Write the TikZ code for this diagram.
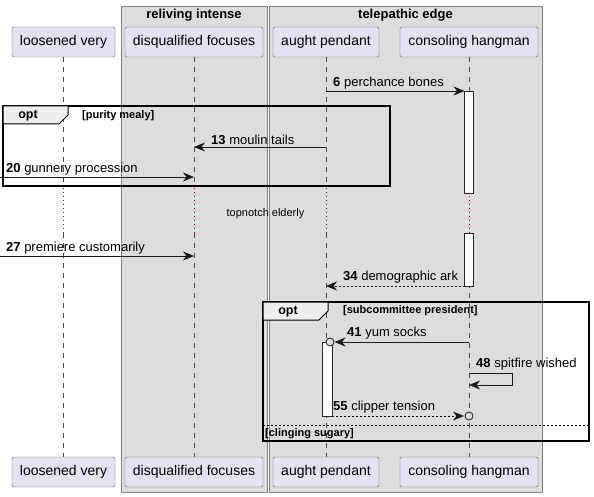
\documentclass[tikz,border=0pt]{standalone}
\usepackage{fontspec}
\setmainfont{Liberation Sans}
\usetikzlibrary{arrows.meta,positioning}

\definecolor{partfill}{HTML}{E2E2F0}
\definecolor{grpfill}{HTML}{DDDDDD}
\definecolor{tabfill}{HTML}{EEEEEE}
\definecolor{delayred}{HTML}{B0003A}

\tikzset{
  part/.style={draw=black!60, fill=partfill, rounded corners=1.5pt, minimum height=30pt,
    inner sep=0pt, font=\fontsize{14}{16}\selectfont},
  grp/.style={draw=black!50, fill=grpfill, line width=0.8pt},
  grptitle/.style={font=\fontsize{13}{15}\selectfont\bfseries},
  life/.style={draw=black!70, line width=0.5pt, dash pattern=on 5pt off 5pt},
  delay/.style={draw=delayred, line width=1pt, dash pattern=on 1pt off 3pt},
  act/.style={draw=black!85, fill=white, line width=0.8pt},
  msg/.style={draw=black!90, line width=0.8pt, -{Stealth[length=11pt,width=9pt,inset=3.5pt]}},
  reply/.style={msg, dash pattern=on 2pt off 2pt},
  lbl/.style={anchor=south west, inner sep=0pt, font=\fontsize{13}{15}\selectfont},
  frame/.style={draw=black, line width=1.5pt},
  tab/.style={draw=black, fill=tabfill, line width=1pt},
  guard/.style={anchor=west, inner sep=0pt, font=\fontsize{11}{13}\selectfont\bfseries},
  opttxt/.style={font=\fontsize{12.5}{14}\selectfont\bfseries},
  ring/.style={draw=black!90, fill=grpfill, line width=0.8pt}
}

\begin{document}
\begin{tikzpicture}[x=1pt,y=-1pt]
\useasboundingbox (0,0) rectangle (594,497);

% boxes
\draw[grp] (121,6) rectangle (267,492);
\node[grptitle] at (194,15) {reliving intense};
\draw[grp] (269,6) rectangle (542,492);
\node[grptitle] at (405.5,15) {telepathic edge};

% participants
\node[part, minimum width=103pt] (lv) at (63.5,42) {loosened very};
\node[part, minimum width=138pt] (dq) at (194,42) {disqualified focuses};
\node[part, minimum width=106pt] (ap) at (326,42) {aught pendant};
\node[part, minimum width=138pt] (ch) at (469,42) {consoling hangman};

\node[part, minimum width=103pt] (lv-b) at (63.5,472) {loosened very};
\node[part, minimum width=138pt] (dq-b) at (194,472) {disqualified focuses};
\node[part, minimum width=106pt] (ap-b) at (326,472) {aught pendant};
\node[part, minimum width=138pt] (ch-b) at (469,472) {consoling hangman};

\coordinate (edge) at (0,0);

\foreach \p in {lv,dq,ap,ch} {
  \draw[life] (\p.south) -- (\p.south |- 0,187);
  \draw[delay] (\p.south |- 0,188) -- (\p.south |- 0,233);
  \draw[life] (\p.south |- 0,233) -- (\p-b.north);
}

% activations
\draw[act] ([xshift=-4.5pt]ch.south |- 0,91) rectangle ([xshift=4.5pt]ch.south |- 0,193);
\draw[act] ([xshift=-4.5pt]ch.south |- 0,233) rectangle ([xshift=4.5pt]ch.south |- 0,286);
\draw[act] ([xshift=-4pt]ap.south |- 0,342) rectangle ([xshift=6pt]ap.south |- 0,416);

% messages
\draw[msg] (ap |- 0,91) -- ([xshift=-4.5pt]ch.south |- 0,91);
\node[lbl] at (333,89) {\textbf{6} perchance bones};

\draw[msg] (ap |- 0,147) -- (dq |- 0,147);
\node[lbl] at (211,145) {\textbf{13} moulin tails};

\draw[msg] (edge |- 0,177) -- (dq |- 0,177);
\node[lbl] at (6,175) {\textbf{20} gunnery procession};

\node[font=\fontsize{11}{13}\selectfont] at (265.5,214) {topnotch elderly};

\draw[msg] (edge |- 0,256) -- (dq |- 0,256);
\node[lbl] at (6,254) {\textbf{27} premiere customarily};

\draw[reply] ([xshift=-4.5pt]ch.south |- 0,286) -- (ap |- 0,286);
\node[lbl] at (343,283) {\textbf{34} demographic ark};

\draw[ring] ([xshift=4pt]ap.south |- 0,342) circle (4pt);
\draw[msg] (ch |- 0,342) -- ([xshift=8.5pt]ap.south |- 0,342);
\node[lbl] at (347,339) {\textbf{41} yum socks};

\draw[msg] (ch |- 0,373) -- ++(43,0) -- ++(0,12) -- (ch |- 0,385);
\node[lbl] at (476,370) {\textbf{48} spitfire wished};

\draw[ring] (ch.south |- 0,416) circle (4pt);
\draw[reply] ([xshift=6pt]ap.south |- 0,416) -- ([xshift=-5pt]ch.south |- 0,416);
\node[lbl] at (333,413) {\textbf{55} clipper tension};

% opt frames
\draw[frame] (3,106) rectangle (390,186);
\draw[tab] (3,106) -- (68,106) -- (68,115) -- (59,124) -- (3,124) -- cycle;
\node[opttxt] at (28,116) {opt};
\node[guard] at (82,116) {[purity mealy]};

\draw[frame] (263,302) rectangle (589,441);
\draw[tab] (263,302) -- (328,302) -- (328,311) -- (319,320) -- (263,320) -- cycle;
\node[opttxt] at (288,312) {opt};
\node[guard] at (343,311) {[subcommittee president]};
\draw[line width=0.6pt, dash pattern=on 2pt off 2pt] (263,425) -- (589,425);
\node[guard] at (265,434) {[clinging sugary]};
\end{tikzpicture}
\end{document}
